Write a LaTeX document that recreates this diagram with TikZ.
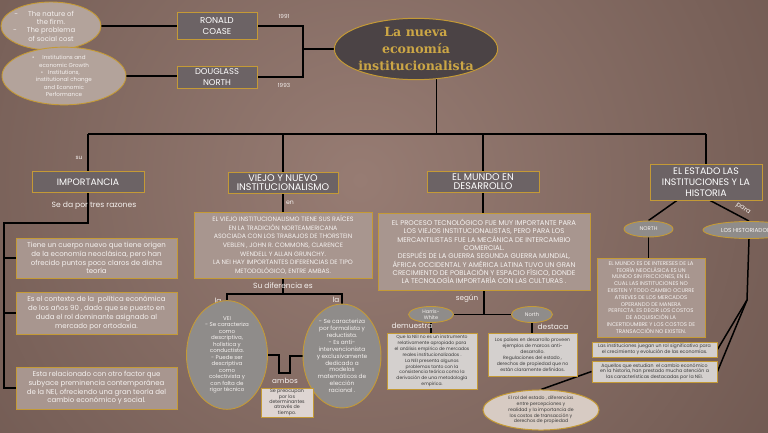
\documentclass[tikz,border=0pt]{standalone}
\usepackage{fontspec}
\setmainfont{Poppins}
\newfontfamily\titlefont{DejaVu Serif}
\usetikzlibrary{shapes.geometric}
\pgfdeclarelayer{bgl}
\pgfdeclarelayer{lnl}
\pgfsetlayers{bgl,lnl,main}
\definecolor{bgin}{HTML}{977C73}
\definecolor{bgout}{HTML}{5C4740}
\definecolor{gold}{HTML}{C49A36}
\definecolor{tgray}{HTML}{6C6365}
\definecolor{tan}{HTML}{A8968F}
\definecolor{lgray}{HTML}{D4D0CE}
\definecolor{lgray2}{HTML}{DED5D2}
\definecolor{egray}{HTML}{8F8C8A}
\definecolor{etan}{HTML}{B3A39B}
\definecolor{ebeige}{HTML}{D7CBC3}
\definecolor{tdark}{HTML}{4B4345}
\definecolor{titlegold}{HTML}{CBA645}
\definecolor{dtext}{HTML}{3A3A3A}
\definecolor{wtext}{HTML}{F6F2F0}
\newcommand\fsz[2]{\fontsize{#1}{#2}\selectfont}
\begin{document}
\begin{tikzpicture}[x=1pt,y=-1pt,
  tbox/.style={rectangle,draw=gold,fill=tgray,text=white,line width=0.8pt,inner sep=0pt,align=center},
  tanbox/.style={rectangle,draw=gold,fill=tan,text=wtext,line width=0.7pt,inner sep=0pt,align=center},
  lbox/.style={rectangle,draw=gold,fill=lgray,text=dtext,line width=0.9pt,inner sep=0pt,align=center},
  gell/.style={ellipse,draw=gold,fill=egray,text=wtext,line width=0.9pt,inner sep=0pt,align=center},
  lab/.style={text=wtext,inner sep=0pt},
  conn/.style={draw=black,line width=1.5pt}]
\useasboundingbox (0,0) rectangle (768,433);
\begin{pgfonlayer}{bgl}
\begin{scope}
\clip (0,0) rectangle (768,433);
\fill[bgout] (0,0) rectangle (768,433);
\shade[inner color=bgin,outer color=bgout] (360,180) circle (760);
\end{scope}
\end{pgfonlayer}
\clip (0,0) rectangle (768,433);

% ---------- top ----------
\node[ellipse,draw=gold,fill=etan,text=wtext,line width=0.9pt,inner sep=0pt,align=center,
  minimum width=100pt,minimum height=48pt,font={\fsz{6.9}{8.3}}] (e1) at (51,26)
  {\llap{-\hspace{10pt}}The nature of\\the firm.\\\llap{-\hspace{10pt}}The problema\\of social cost};
\node[ellipse,draw=gold,fill=etan,text=wtext,line width=0.9pt,inner sep=0pt,align=center,
  minimum width=124pt,minimum height=50pt,font={\fsz{5.6}{7.3}}] (e2) at (64,76)
  {\llap{•\hspace{8pt}}Institutions and\\economic Growth\\\llap{•\hspace{5pt}}Institutions,\\institutional change\\and Economic\\Performance};
\node[tbox,minimum width=80pt,minimum height=27pt,font={\fsz{8.6}{11.5}}] (coase) at (217,26) {RONALD\\COASE};
\node[tbox,minimum width=80pt,minimum height=22pt,font={\fsz{8.4}{10.5}}] (dnorth) at (217,77) {DOUGLASS\\NORTH};
\node[ellipse,draw=gold,fill=tdark,line width=1pt,inner sep=0pt,align=center,text=titlegold,
  minimum width=158pt,minimum height=55pt,font={\titlefont\bfseries\fsz{12.6}{17}}] (title) at (416,49)
  {La nueva\\economía\\institucionalista};
\node[lab,font={\fsz{5.6}{6}}] (y1) at (284,16) {1991};
\node[lab,font={\fsz{5.6}{6}}] (y2) at (284,85) {1993};
\coordinate (j1) at (303,49);
\coordinate (hub) at (434,134);

% ---------- importancia ----------
\node[tbox,minimum width=112pt,minimum height=21pt,font={\fsz{9.3}{9}}] (imp) at (88,182) {IMPORTANCIA};
\node[lab,font={\fsz{5.8}{6}}] (su) at (79,158) {su};
\node[lab,font={\fsz{7.6}{7}}] (razones) at (94,206) {Se da por tres razones};
\node[tanbox,minimum width=161pt,minimum height=40pt,font={\fsz{7}{8.8}}] (ib1) at (96.5,258)
  {Tiene un cuerpo nuevo que tiene origen\\de la economía neoclásica, pero han\\ofrecido puntos poco claros de dicha\\teoría};
\node[tanbox,minimum width=161pt,minimum height=42pt,font={\fsz{7}{8.8}}] (ib2) at (96.5,313)
  {Es el contexto de la\ \ política económica\\de los años 90 , dado que se puesto en\\duda el rol dominante asignado al\\mercado por ortodoxia.};
\node[tanbox,minimum width=161pt,minimum height=42pt,font={\fsz{7}{8.8}}] (ib3) at (96.5,388)
  {Esta relacionado con otro factor que\\subyace preminencia contemporánea\\de la NEI, ofreciendo una gran teoría del\\cambio económico y social.};
\coordinate (ia) at (88,223);
\coordinate (sp) at (4,223);

% ---------- viejo y nuevo ----------
\node[tbox,minimum width=110pt,minimum height=21pt,font={\fsz{9.6}{9.6}}] (viejo) at (283,182.5) {VIEJO Y NUEVO\\INSTITUCIONALISMO};
\node[lab,font={\fsz{6.2}{6}}] (en) at (290,203) {en};
\node[tanbox,minimum width=178pt,minimum height=66pt,font={\fsz{6.3}{8.6}}] (vtext) at (283,245)
  {EL VIEJO INSTITUCIONALISMO TIENE SUS RAÍCES\\EN LA TRADICIÓN NORTEAMERICANA\\ASOCIADA CON LOS TRABAJOS DE THORSTEIN\\VEBLEN , JOHN R. COMMONS, CLARENCE\\WENDELL Y ALLAN GRUNCHY.\\LA NEI HAY IMPORTANTES DIFERENCIAS DE TIPO\\METODOLÓGICO, ENTRE AMBAS.};
\node[lab,font={\fsz{7.5}{7}}] (dif) at (283,286) {Su diferencia es};
\node[lab,font={\fsz{7.3}{7}}] (la1) at (218,301) {la};
\node[lab,font={\fsz{7.3}{7}}] (la2) at (336,300) {la};
\coordinate (vd) at (283,294);
\node[gell,minimum width=81pt,minimum height=91pt,font={\fsz{5.5}{6.5}}] (vel) at (227,355)
  {VEI\\- Se caracteriza\\como\\descriptiva,\\holística y\\conductista.\\- Puede ser\\descriptiva\\como\\colectivista y\\con falta de\\rigor técnico};
\node[gell,minimum width=78pt,minimum height=92pt,font={\fsz{5.8}{6.9}}] (ver) at (342,356)
  {- Se caracteriza\\por formalista y\\reductista.\\- Es anti-\\intervencionista\\y exclusivamente\\dedicado a\\modelos\\matemáticos de\\elección\\racional .};
\coordinate (aL) at (279,373);
\coordinate (aR) at (290,373);
\node[lab,font={\fsz{7.2}{7}}] (ambos) at (285,381) {ambos};
\node[rectangle,draw=gold,fill=lgray2,text=dtext,line width=0.9pt,inner sep=0pt,align=center,
  minimum width=52pt,minimum height=29pt,font={\fsz{4.8}{5.4}}] (abox) at (287,402.5)
  {Se preocupan\\por los\\determinantes\\através de\\tiempo.};

% ---------- mundo en desarrollo ----------
\node[tbox,minimum width=112pt,minimum height=21pt,font={\fsz{9.6}{9.6}}] (mundo) at (483,181.5) {EL MUNDO EN\\DESARROLLO};
\node[tanbox,minimum width=212pt,minimum height=77pt,font={\fsz{6.9}{8.3}}] (mtext) at (484,251.5)
  {EL PROCESO TECNOLÓGICO FUE MUY IMPORTANTE PARA\\LOS VIEJOS INSTITUCIONALISTAS, PERO PARA LOS\\MERCANTILISTAS FUE LA MECÁNICA DE INTERCAMBIO\\COMERCIAL.\\DESPUÉS DE LA GUERRA SEGUNDA GUERRA MUNDIAL,\\ÁFRICA OCCIDENTAL Y AMÉRICA LATINA TUVO UN GRAN\\CRECIMIENTO DE POBLACIÓN Y ESPACIO FÍSICO, DONDE\\LA TECNOLOGÍA IMPORTARÍA CON LAS CULTURAS .};
\node[lab,font={\fsz{7.2}{7}}] (segun) at (467,299) {según};
\node[gell,minimum width=45pt,minimum height=16pt,font={\fsz{5}{6}}] (hw) at (431,314.5) {Harris-\\White};
\node[gell,minimum width=41pt,minimum height=16pt,font={\fsz{5.2}{6}}] (nor) at (532,314.5) {North};
\node[lab,font={\fsz{7.4}{7}}] (dem) at (412,325.5) {demuestra};
\node[lab,font={\fsz{7.4}{7}}] (des) at (553,327) {destaca};
\node[lbox,minimum width=90pt,minimum height=56pt,font={\fsz{4.5}{5.9}}] (hwbox) at (432,361)
  {Que la NEI no es un instrumento\\relativamente apropiado para\\el análisis empírico de mercados\\reales institucionalizados .\\La NEI presenta algunos\\problemas tanto con la\\consistencia teórica como la\\derivación de una metodología\\empírica.};
\node[lbox,minimum width=89pt,minimum height=43pt,font={\fsz{4.6}{6}}] (norbox) at (532.5,354.5)
  {Los países en desarrollo proveen\\ejemplos de marcos anti-\\desarrollo.\\Regulaciones del estado ,\\derechos de propiedad que no\\están claramente definidos.};
\node[ellipse,draw=gold,fill=ebeige,text=dtext,line width=1pt,inner sep=0pt,align=center,
  minimum width=116pt,minimum height=35pt,font={\fsz{4.6}{5.9}}] (bell) at (541,410)
  {El rol del estado , diferencias\\entre percepciones y\\realidad y la importancia de\\los costos de transacción y\\derechos de propiedad};

% ---------- estado ----------
\node[tbox,minimum width=112pt,minimum height=36pt,font={\fsz{9.4}{11}}] (estado) at (706,182)
  {EL ESTADO LAS\\INSTITUCIONES Y LA\\HISTORIA};
\node[gell,minimum width=49pt,minimum height=16pt,font={\fsz{5.4}{6}}] (north2) at (648.5,229) {NORTH};
\node[gell,minimum width=92pt,minimum height=17pt,font={\fsz{5.8}{6}}] (hist) at (749,230) {LOS HISTORIADORES};
\node[lab,rotate=-35,font={\fsz{6.6}{6}}] (para) at (743,209) {para};
\node[tanbox,minimum width=108pt,minimum height=79pt,font={\fsz{5.4}{6.8}}] (ebox) at (651,297.5)
  {EL MUNDO ES DE INTERESES DE LA\\TEORÍA NEOCLÁSICA ES UN\\MUNDO SIN FRICCIONES, EN EL\\CUAL LAS INSTITUCIONES NO\\EXISTEN Y TODO CAMBIO OCURRE\\ATREVES DE LOS MERCADOS\\OPERANDO DE MANERA\\PERFECTA. ES DECIR LOS COSTOS\\DE ADQUISICIÓN LA\\INCERTIDUMBRE Y LOS COSTOS DE\\TRANSACCIÓN NO EXISTEN.};
\node[lbox,minimum width=125pt,minimum height=15pt,font={\fsz{4.7}{5.7}}] (lbox1) at (654.5,349.5)
  {Las instituciones juegan un rol significativo para\\el crecimiento y evolución de las economías.};
\node[lbox,minimum width=125pt,minimum height=21pt,font={\fsz{4.7}{5.7}}] (lbox2) at (654.5,371.5)
  {Aquellos que estudian\ \ el cambio económico\\en la historia, han prestado mucha atención a\\las características destacadas por la NEI.};
\coordinate (hk) at (747,300);

% ---------- connectors ----------
\begin{pgfonlayer}{lnl}
\draw[conn] (e1.east) -- (e1.east -| coase.west);
\draw[conn] (e2.east) -- (e2.east -| dnorth.west);
\draw[conn] (coase.east) -| (j1) |- (dnorth.east);
\draw[conn] (j1) -- (j1 -| title.west);
\draw[conn] (title.-56) -- (title.-56 |- hub);
\draw[conn] (imp.north |- hub) -- (estado.north |- hub);
\draw[conn] (imp.north |- hub) -- (ia) -- (sp) |- (ib3.west);
\draw[conn] (sp |- ib1.west) -- (ib1.west);
\draw[conn] (sp |- ib2.west) -- (ib2.west);
\draw[conn] (viejo.north |- hub) -- (viejo.north);
\draw[conn] (viejo.south) -- (vtext.north);
\draw[conn] (vtext.south) -- (vd);
\draw[conn] (vel.north) |- (vd) -| (ver.north);
\draw[conn] (vel.east) -| (aL) -- (aR) |- (ver.west);
\draw[conn] (mundo.north |- hub) -- (mundo.north);
\draw[conn] (mundo.south) -- (mundo.south |- mtext.north);
\draw[conn] (mtext.south) -- (mtext.south |- hw.east);
\draw[conn] (hw.east) -- (nor.west);
\draw[conn] (hw.south) -- (hw.south |- hwbox.north);
\draw[conn] (nor.south) -- (nor.south |- norbox.north);
\draw[conn] (bell.north) -- (lbox2.west);
\draw[conn] (estado.north |- hub) -- (estado.north);
\draw[conn] ([xshift=-29pt]estado.south) -- (north2.north);
\draw[conn] ([xshift=4pt]estado.south) -- (hist.north);
\draw[conn] (north2.south) -- (north2.south |- ebox.north);
\draw[conn] (hist.south) -- (hk) -- (lbox1.east);
\draw[conn] (hk) -- (lbox2.east);
\end{pgfonlayer}
\end{tikzpicture}
\end{document}
